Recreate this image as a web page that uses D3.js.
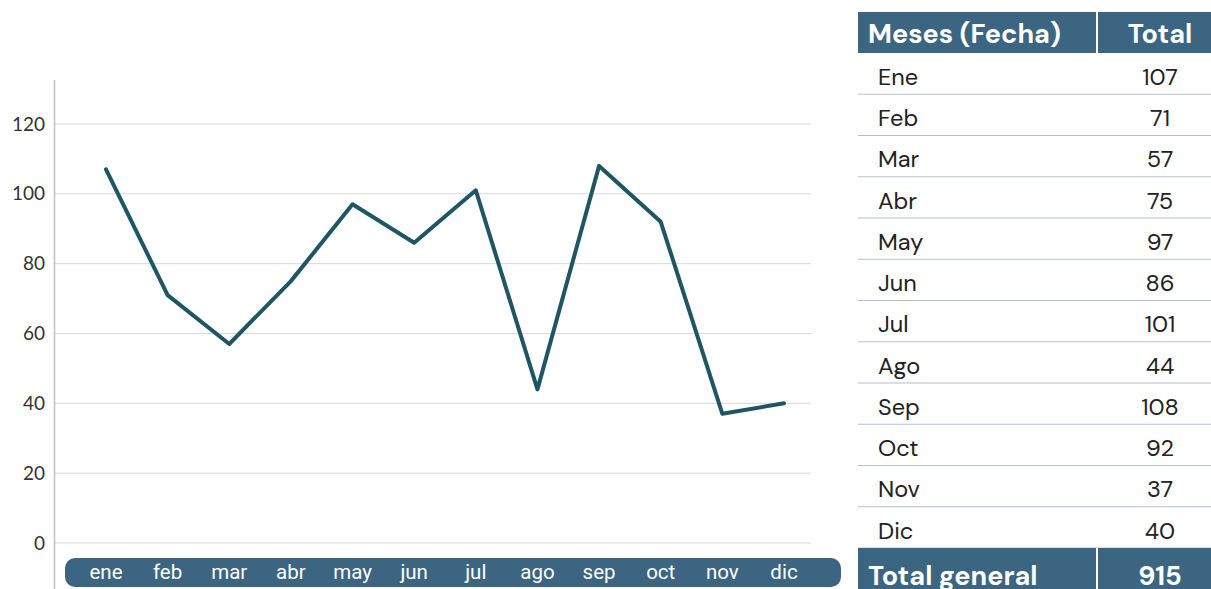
<!DOCTYPE html>
<html>
<head>
<meta charset="utf-8">
<script src="https://cdn.jsdelivr.net/npm/d3@7"></script>
<style>
  body { margin: 0; background: #fff; }
  svg { display: block; }
</style>
</head>
<body>
<svg id="chart" width="1211" height="589"></svg>
<script>
// datos
var meses = ["ene", "feb", "mar", "abr", "may", "jun", "jul", "ago", "sep", "oct", "nov", "dic"];
var mesesTabla = ["Ene", "Feb", "Mar", "Abr", "May", "Jun", "Jul", "Ago", "Sep", "Oct", "Nov", "Dic"];
var totales = [107, 71, 57, 75, 97, 86, 101, 44, 108, 92, 37, 40];
var yTicks = [0, 20, 40, 60, 80, 100, 120];
var totalGeneral = 915;

var svg = d3.select("#chart");
var azul = "#3b6580";
var linea = "#1f5663";

// escalas
var xScale = d3.scalePoint()
  .domain(meses)
  .range([106, 784]);
var yScale = d3.scaleLinear()
  .domain([0, 120])
  .range([543, 124]);

// grid
svg.append("g")
  .selectAll("line")
  .data(yTicks)
  .enter()
  .append("line")
  .attr("x1", 55)
  .attr("x2", 811)
  .attr("y1", d => yScale(d))
  .attr("y2", d => yScale(d))
  .style("stroke", "#d9d9d9")
  .style("stroke-width", 1);

// eje y
var yAxis = svg.append("g")
  .attr("transform", "translate(54,0)")
  .call(d3.axisLeft(yScale).tickValues(yTicks).tickSize(0).tickPadding(9));
yAxis.select(".domain").remove();
yAxis.selectAll("text")
  .style("font-family", "Lato, 'Noto Sans', sans-serif")
  .style("font-size", "19px")
  .style("fill", "#333");

svg.append("line")
  .attr("x1", 54.5).attr("x2", 54.5)
  .attr("y1", 80).attr("y2", 589)
  .style("stroke", "#bfbfbf")
  .style("stroke-width", 1.5);

// banda de categorias
svg.append("rect")
  .attr("x", 65)
  .attr("y", 558)
  .attr("width", 776)
  .attr("height", 29)
  .attr("rx", 10)
  .style("fill", azul);

svg.append("g")
  .selectAll("text")
  .data(meses)
  .enter()
  .append("text")
  .attr("x", d => xScale(d))
  .attr("y", 572)
  .attr("dy", "0.35em")
  .attr("text-anchor", "middle")
  .style("font-family", "Roboto, sans-serif")
  .style("font-size", "20.5px")
  .style("fill", "#fff")
  .text(d => d);

// linea
var line = d3.line()
  .x((d, i) => xScale(meses[i]))
  .y(d => yScale(d))
  .curve(d3.curveLinear);

svg.append("path")
  .datum(totales)
  .attr("d", line)
  .style("fill", "none")
  .style("stroke", linea)
  .style("stroke-width", 4)
  .style("stroke-linejoin", "round")
  .style("stroke-linecap", "round");

// tabla
var tx = 858, tw = 353, colDiv = 1097;
var rowScale = d3.scaleBand()
  .domain(mesesTabla)
  .range([53, 548]);
var rh = rowScale.bandwidth();
var fuente = "'DM Sans', Lato, 'Noto Sans', sans-serif";

svg.append("rect")
  .attr("x", tx).attr("y", 12)
  .attr("width", tw).attr("height", 41)
  .style("fill", azul);
svg.append("line")
  .attr("x1", colDiv).attr("x2", colDiv)
  .attr("y1", 12).attr("y2", 53)
  .style("stroke", "#fff").style("stroke-width", 2);
svg.append("text")
  .attr("x", 868).attr("y", 34).attr("dy", "0.35em")
  .style("font-family", fuente).style("font-weight", "bold")
  .style("font-size", "27px").style("fill", "#fff")
  .text("Meses (Fecha)");
svg.append("text")
  .attr("x", 1160).attr("y", 34).attr("dy", "0.35em")
  .attr("text-anchor", "middle")
  .style("font-family", fuente).style("font-weight", "bold")
  .style("font-size", "27px").style("fill", "#fff")
  .text("Total");

var filas = svg.append("g")
  .selectAll("g")
  .data(mesesTabla)
  .enter()
  .append("g")
  .attr("transform", d => "translate(0," + rowScale(d) + ")");

filas.append("line")
  .attr("x1", tx).attr("x2", tx + tw)
  .attr("y1", rh).attr("y2", rh)
  .style("stroke", "#b4c0d0")
  .style("stroke-width", 1.2);

filas.append("text")
  .attr("x", 878).attr("y", rh / 2 + 3).attr("dy", "0.35em")
  .style("font-family", fuente).style("font-size", "23.5px").style("fill", "#222")
  .text(d => d);

filas.append("text")
  .attr("x", 1160).attr("y", rh / 2 + 3).attr("dy", "0.35em")
  .attr("text-anchor", "middle")
  .style("font-family", fuente).style("font-size", "23.5px").style("fill", "#222")
  .text((d, i) => totales[i]);

svg.append("rect")
  .attr("x", tx).attr("y", 548)
  .attr("width", tw).attr("height", 45)
  .style("fill", azul);
svg.append("line")
  .attr("x1", colDiv).attr("x2", colDiv)
  .attr("y1", 548).attr("y2", 589)
  .style("stroke", "#fff").style("stroke-width", 2);
svg.append("text")
  .attr("x", 868).attr("y", 576).attr("dy", "0.35em")
  .style("font-family", fuente).style("font-weight", "bold")
  .style("font-size", "27px").style("fill", "#fff")
  .text("Total general");
svg.append("text")
  .attr("x", 1160).attr("y", 576).attr("dy", "0.35em")
  .attr("text-anchor", "middle")
  .style("font-family", fuente).style("font-weight", "bold")
  .style("font-size", "27px").style("fill", "#fff")
  .text(totalGeneral);
</script>
</body>
</html>
